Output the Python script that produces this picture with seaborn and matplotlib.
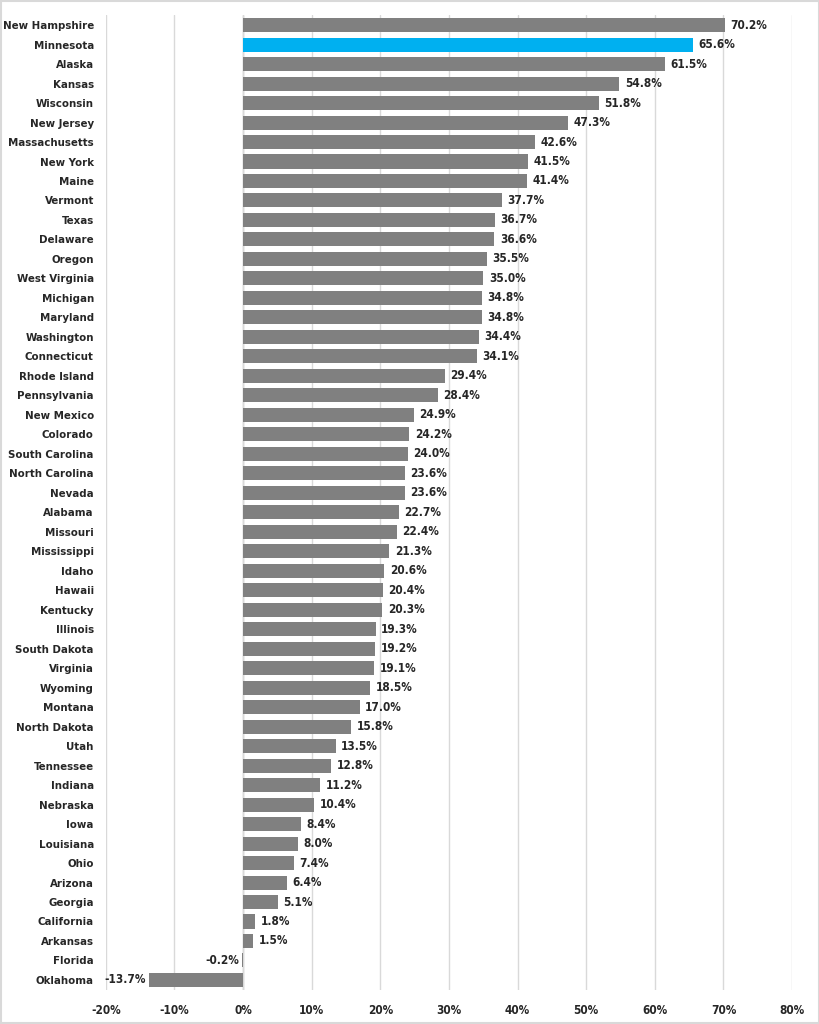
import matplotlib
matplotlib.use("Agg")
import matplotlib.pyplot as plt
import seaborn as sns
import pandas as pd
from matplotlib.ticker import FuncFormatter, MultipleLocator

states = ["New Hampshire", "Minnesota", "Alaska", "Kansas", "Wisconsin", "New Jersey",
          "Massachusetts", "New York", "Maine", "Vermont", "Texas", "Delaware", "Oregon",
          "West Virginia", "Michigan", "Maryland", "Washington", "Connecticut", "Rhode Island",
          "Pennsylvania", "New Mexico", "Colorado", "South Carolina", "North Carolina", "Nevada",
          "Alabama", "Missouri", "Mississippi", "Idaho", "Hawaii", "Kentucky", "Illinois",
          "South Dakota", "Virginia", "Wyoming", "Montana", "North Dakota", "Utah", "Tennessee",
          "Indiana", "Nebraska", "Iowa", "Louisiana", "Ohio", "Arizona", "Georgia", "California",
          "Arkansas", "Florida", "Oklahoma"]
values = [70.2, 65.6, 61.5, 54.8, 51.8, 47.3, 42.6, 41.5, 41.4, 37.7, 36.7, 36.6, 35.5,
          35.0, 34.8, 34.8, 34.4, 34.1, 29.4, 28.4, 24.9, 24.2, 24.0, 23.6, 23.6,
          22.7, 22.4, 21.3, 20.6, 20.4, 20.3, 19.3, 19.2, 19.1, 18.5, 17.0, 15.8, 13.5, 12.8,
          11.2, 10.4, 8.4, 8.0, 7.4, 6.4, 5.1, 1.8, 1.5, -0.2, -13.7]
highlight = "Minnesota"

sns.set_theme(style="white")
plt.rcParams['font.family'] = ['DejaVu Sans']
plt.rcParams['font.stretch'] = 'condensed'

df = pd.DataFrame({"state": states, "value": values})
palette = {s: ("#00B0F0" if s == highlight else "#808080") for s in states}

fig = plt.figure(figsize=(8.2, 10.24), dpi=100)
ax = fig.add_axes([0.129, 0.0335, 0.837, 0.9515])
sns.barplot(data=df, y="state", x="value", hue="state", palette=palette, legend=False,
            orient="h", width=0.72, ax=ax, saturation=1, linewidth=0)

ax.set_xlim(-20, 80)
ax.xaxis.set_major_locator(MultipleLocator(10))
ax.xaxis.set_major_formatter(FuncFormatter(lambda v, p: f"{v:.0f}%"))
ax.grid(axis="x", color="#D9D9D9", linewidth=1)
ax.set_axisbelow(True)
for s in ax.spines.values():
    s.set_visible(False)
ax.set_xlabel("")
ax.set_ylabel("")
ax.tick_params(axis="x", length=0, labelsize=8.5, pad=10)
ax.tick_params(axis="y", length=0, labelsize=8.2, pad=8.6)
for lab in ax.get_xticklabels() + ax.get_yticklabels():
    lab.set_fontweight("bold")
    lab.set_fontstretch("condensed")
ax.axvline(0, color="#BFBFBF", linewidth=1, zorder=0.5)

for i, v in enumerate(values):
    if v >= 0:
        ax.annotate(f"{v:.1f}%", (v, i), xytext=(4, 0), textcoords="offset points",
                    ha="left", va="center", fontsize=8.5, fontweight="bold",
                    fontstretch="condensed")
    else:
        ax.annotate(f"{v:.1f}%", (v, i), xytext=(-2, 0), textcoords="offset points",
                    ha="right", va="center", fontsize=8.5, fontweight="bold",
                    fontstretch="condensed")

fig.patches.append(plt.Rectangle((0.001, 0.001), 0.998, 0.998, transform=fig.transFigure,
                                 fill=False, edgecolor="#D9D9D9", linewidth=1.5))
fig.savefig("out.png", dpi=100)
